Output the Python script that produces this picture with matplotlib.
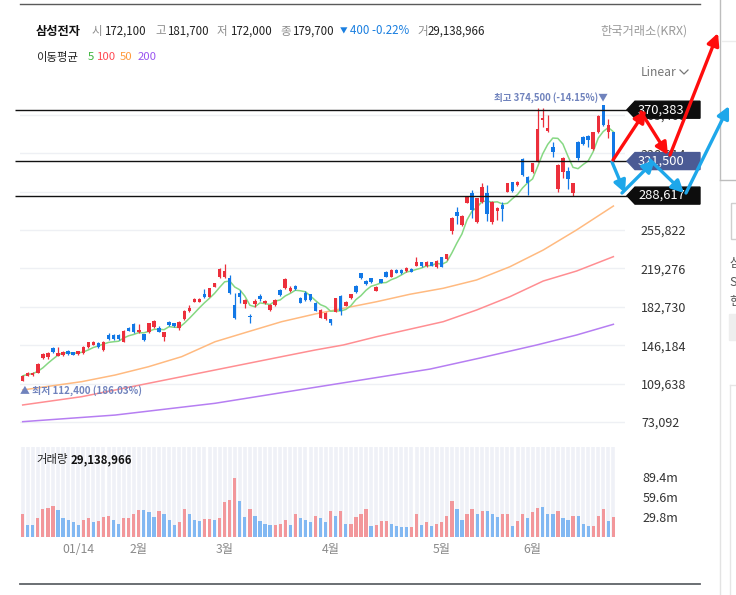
import numpy as np
import pandas as pd
import matplotlib
matplotlib.use("Agg")
from matplotlib import pyplot as plt
from matplotlib.patches import Polygon, Rectangle

plt.rcParams['font.family'] = ['Noto Sans CJK KR', 'DejaVu Sans']

W, H = 736, 595
RED = '#ec2f3b'
BLUE = '#1278e6'
VRED = '#f2979b'
VBLUE = '#82b8f2'

## daily candles (thousand won)
opens = [112.5, 117.2, 117.5, 120.0, 134.0, 134.9, 143.3, 136.2, 136.5, 141.0,
         139.5, 137.5, 138.5, 144.8, 146.4, 148.6, 141.6, 155.9, 155.9, 155.5,
         149.5, 162.8, 166.4, 158.5, 156.6, 158.5, 163.8, 162.8, 153.7, 168.6,
         167.1, 162.8, 171.1, 178.7, 187.6, 187.6, 194.9, 192.4, 201.9, 210.8,
         210.8, 210.5, 184.5, 195.6, 185.4, 174.0, 185.1, 193.0, 186.1, 179.7,
         184.5, 198.7, 200.3, 197.8, 202.6, 191.4, 196.2, 194.7, 186.7, 172.4,
         170.9, 170.9, 178.1, 193.3, 183.8, 190.8, 202.9, 214.7, 207.6, 209.9,
         198.1, 208.9, 215.9, 211.4, 217.8, 218.0, 216.8, 218.7, 221.9, 225.0,
         221.5, 225.0, 220.2, 229.9, 228.3, 254.8, 272.7, 260.6, 281.9, 291.4,
         263.8, 282.8, 291.4, 263.5, 274.0, 279.5, 292.3, 301.3, 298.7, 323.2,
         306.6, 310.8, 320.9, 360.6, 350.1, 335.1, 294.9, 310.8, 312.0, 290.8,
         339.9, 344.7, 345.6, 333.0, 348.9, 374.5, 349.0, 348.9]
highs = [117.5, 120.5, 120.8, 128.8, 138.5, 139.5, 144.8, 144.8, 141.0, 142.0,
         140.2, 141.0, 145.0, 149.6, 150.2, 149.2, 150.0, 157.5, 157.0, 157.0,
         160.5, 163.5, 167.2, 166.4, 157.2, 167.8, 170.0, 164.5, 159.2, 169.5,
         167.8, 168.8, 179.5, 184.5, 190.8, 190.8, 199.5, 201.0, 205.8, 219.5,
         223.5, 213.0, 195.6, 198.5, 189.8, 175.9, 190.0, 194.5, 189.2, 185.0,
         189.8, 199.5, 209.8, 202.5, 203.3, 192.0, 197.5, 195.3, 187.3, 180.3,
         177.8, 171.5, 191.5, 194.0, 188.0, 195.3, 203.6, 215.3, 208.3, 210.5,
         202.5, 209.5, 216.5, 218.5, 218.4, 218.8, 220.6, 219.3, 230.0, 225.6,
         226.0, 225.7, 227.0, 230.6, 233.3, 268.2, 278.0, 270.2, 288.3, 293.9,
         286.7, 300.3, 299.0, 283.5, 278.2, 283.0, 301.0, 302.0, 302.6, 324.0,
         307.3, 320.0, 371.7, 371.7, 365.0, 340.0, 318.5, 325.5, 316.0, 301.0,
         340.6, 345.4, 346.3, 349.6, 365.4, 374.5, 362.0, 349.6]
lows = [112.4, 116.8, 117.0, 119.5, 133.0, 133.1, 139.2, 135.5, 136.0, 137.0,
        136.5, 137.0, 137.8, 144.0, 146.0, 143.5, 141.0, 151.5, 151.5, 151.5,
        148.8, 159.5, 157.5, 158.0, 150.2, 157.8, 163.0, 158.3, 150.5, 164.8,
        163.8, 160.5, 170.5, 178.0, 187.0, 187.0, 191.0, 191.8, 201.2, 210.2,
        210.2, 195.0, 171.0, 186.8, 181.3, 167.6, 183.0, 188.0, 185.5, 179.0,
        184.0, 193.2, 199.5, 197.0, 198.8, 186.0, 188.5, 188.5, 178.3, 171.8,
        170.0, 165.0, 177.5, 174.9, 183.2, 190.2, 196.0, 209.3, 203.5, 205.5,
        197.5, 205.0, 210.8, 210.8, 214.5, 214.3, 216.2, 215.5, 221.3, 220.8,
        220.8, 221.3, 219.6, 220.4, 227.5, 251.8, 261.3, 260.0, 281.2, 267.3,
        263.0, 282.0, 264.4, 262.0, 265.0, 264.5, 291.6, 292.3, 298.0, 307.5,
        289.0, 310.0, 320.2, 354.2, 349.5, 325.0, 292.0, 305.0, 295.0, 288.0,
        322.5, 336.7, 335.0, 332.3, 348.2, 355.1, 343.0, 320.8]
closes = [117.0, 120.0, 120.2, 128.3, 137.8, 138.8, 140.0, 139.0, 139.5, 137.8,
          137.0, 140.5, 144.2, 149.0, 149.5, 144.2, 149.5, 152.1, 152.1, 152.0,
          159.7, 160.0, 158.5, 160.7, 150.9, 167.1, 169.2, 159.0, 158.5, 165.4,
          164.5, 168.0, 178.7, 181.9, 190.2, 190.2, 191.8, 200.3, 205.1, 218.7,
          216.8, 195.6, 171.8, 191.8, 189.2, 172.8, 188.3, 190.2, 188.6, 184.5,
          189.2, 193.9, 209.2, 200.9, 199.4, 186.7, 189.2, 189.2, 179.0, 179.7,
          177.1, 167.6, 190.8, 178.7, 187.0, 194.7, 196.6, 209.9, 204.2, 206.1,
          201.9, 205.7, 211.4, 217.8, 215.2, 215.0, 220.0, 216.2, 225.7, 221.5,
          225.3, 222.0, 226.4, 221.0, 232.7, 267.6, 269.5, 269.5, 287.6, 275.0,
          286.0, 297.1, 271.1, 282.2, 277.1, 275.8, 300.3, 293.0, 301.9, 308.2,
          300.3, 319.4, 351.7, 362.3, 353.3, 330.4, 317.8, 324.7, 304.4, 300.3,
          324.1, 337.4, 341.6, 348.9, 364.7, 355.8, 356.0, 321.5]

## volume (million shares) and bar colours as drawn
volumes = [33.8, 18.4, 18.4, 28.8, 42.2, 43.7, 45.7, 40.7, 28.8, 25.8,
           21.9, 17.4, 24.8, 28.8, 21.9, 23.3, 29.8, 31.8, 24.8, 19.9,
           28.8, 28.8, 34.8, 39.7, 39.7, 36.8, 29.8, 38.2, 34.8, 24.8,
           18.4, 21.9, 41.2, 33.8, 25.8, 23.3, 26.3, 27.3, 25.8, 28.8,
           51.7, 54.6, 88.4, 53.1, 29.3, 42.2, 31.8, 23.3, 19.9, 18.4,
           18.4, 19.4, 24.8, 18.4, 34.8, 28.8, 24.8, 21.9, 31.8, 28.8,
           21.9, 38.2, 31.8, 38.2, 19.9, 19.9, 29.8, 34.8, 41.2, 16.9,
           18.4, 23.3, 23.3, 19.9, 16.9, 15.4, 15.4, 15.4, 33.8, 18.4,
           21.9, 16.9, 19.9, 21.9, 31.8, 53.1, 41.2, 24.8, 34.8, 41.2,
           34.8, 38.2, 38.2, 33.8, 29.8, 34.8, 34.8, 16.9, 23.3, 33.8,
           28.8, 36.8, 43.7, 44.7, 33.8, 33.8, 38.2, 28.8, 25.8, 30.8,
           30.8, 19.9, 16.9, 16.9, 31.8, 42.2, 23.3, 29.8]
vol_colors = ("rbbrrrrbbb" "bbrrbrrrbb" "rrrrbbbrbb" "brrbbbrrbr" "rrrbbrbbbb"
              "rrrbrbbbrb" "brbrbrrrrb" "rrrbbbbrrb" "rbrrrrbbrr" "brbbbrrbrr"
              "brrbbbrbbr" "bbbrrrbr")

## moving averages (x = candle index)
ma50_x = [0, 11.7, 18.3, 24.9, 31.5, 38.1, 44.7, 51.3, 57.9, 63.5, 70.1, 76.7,
          83.3, 89.9, 96.5, 103.1, 109.7, 117]
ma50_v = [103.6, 111.5, 117.8, 125.7, 135.3, 149.5, 159.1, 168.6, 175.9, 181.3,
          187.6, 194.7, 200.4, 208.3, 220.9, 236.8, 255.9, 278.7]
ma100_x = [0, 11.7, 24.9, 38.1, 51.3, 57.9, 63.5, 70.1, 83.3, 89.9, 96.5, 103.1,
           109.7, 117]
ma100_v = [89.3, 97.2, 109.9, 122.6, 135.3, 141.6, 146.4, 154.3, 168.6, 179.7,
           192.4, 207.3, 216.8, 230.5]
ma200_x = [0, 18.3, 38.1, 57.9, 80.7, 90.6, 101.8, 109.7, 117]
ma200_v = [73.4, 79.7, 90.9, 106.1, 123.5, 134.0, 146.4, 155.9, 166.1]

price_ticks = [73092, 109638, 146184, 182730, 219276, 255822, 292368, 328914, 365460]
vol_ticks = [29.8, 59.6, 89.4]
vol_labels = ["29.8m", "59.6m", "89.4m"]
date_ticks = [11, 23, 40, 61, 83, 101]
date_labels = ["01/14", "2월", "3월", "4월", "5월", "6월"]

levels = [370383, 321500, 288617]
level_colors = ['#0d0d0d', '#4b5b95', '#0d0d0d']

fig = plt.figure(figsize=(W / 100, H / 100), dpi=100)


def add_px_axes(left, top, right, bottom):
    return fig.add_axes([left / W, 1 - bottom / H, (right - left) / W, (bottom - top) / H])


ax = add_px_axes(20, 95, 625, 440)
vax = add_px_axes(20, 447, 615, 537)
ov = fig.add_axes([0, 0, 1, 1], zorder=10)
ov.set_xlim(0, W)
ov.set_ylim(H, 0)
ov.axis('off')
ov.patch.set_alpha(0)

## price panel
o = np.array(opens) * 1000
h = np.array(highs) * 1000
l = np.array(lows) * 1000
c = np.array(closes) * 1000
x = np.arange(len(c))
cols = np.where(c >= o, RED, BLUE)

ax.plot(ma200_x, np.array(ma200_v) * 1000, color='#b67ef2', lw=1.1, zorder=2)
ax.plot(ma100_x, np.array(ma100_v) * 1000, color='#ff8e92', lw=1.1, zorder=2)
ax.plot(ma50_x, np.array(ma50_v) * 1000, color='#ffba80', lw=1.1, zorder=2)
ma5 = pd.Series(c).rolling(5, min_periods=1).mean()
ax.plot(x, ma5, color='#86d883', lw=1.1, zorder=2.5)

ax.vlines(x, l, h, colors=cols, lw=0.9, zorder=3)
ax.bar(x, np.maximum(np.abs(c - o), 900), bottom=np.minimum(o, c), width=0.68,
       color=cols, zorder=3)

ax.set_xlim(-0.53, 119.3)
ax.set_ylim(55956, 384396)
ax.set_yticks(price_ticks)
ax.set_yticklabels([f"{t:,}" for t in price_ticks])
ax.yaxis.tick_right()
ax.tick_params(axis='y', length=0, pad=11.5, labelsize=9, labelcolor='#333333')
ax.set_xticks([])
ax.grid(axis='y', color='#eef0f4', lw=1)
ax.set_axisbelow(True)
for s in ax.spines.values():
    s.set_visible(False)

ax.hlines(levels, -1.5, 120.3, colors='#111111', lw=1.0, zorder=5, clip_on=False)

imax = int(np.argmax(h))
imin = int(np.argmin(l))
ax.annotate(f"최고 {h[imax]:,.0f} (-14.15%)▼", xy=(imax, h[imax]), xytext=(3, 2),
            textcoords='offset points', ha='right', va='bottom', fontsize=6.9,
            color='#7083bd', fontweight='bold')
ax.annotate(f"▲ 최저 {l[imin]:,.0f} (186.03%)", xy=(imin, l[imin]), xytext=(-2, -4),
            textcoords='offset points', ha='left', va='top', fontsize=7.1,
            color='#7083bd', fontweight='bold')

## volume panel
vax.set_facecolor('#ffffff')
vax.vlines(x, 0, 134.1, colors='#eff1f7', lw=2.6, zorder=0)
vcols = [VRED if k == 'r' else VBLUE for k in vol_colors]
vax.bar(x, volumes, width=0.64, color=vcols, zorder=2)
vax.set_xlim(-0.53, 117.3)
vax.set_ylim(0, 134.1)
vax.yaxis.tick_right()
vax.set_yticks(vol_ticks)
vax.set_yticklabels(vol_labels)
vax.tick_params(axis='y', length=0, pad=20, labelsize=9, labelcolor='#333333')
vax.set_xticks(date_ticks)
vax.set_xticklabels(date_labels)
vax.tick_params(axis='x', length=0, pad=4, labelsize=8.8, labelcolor='#8a8a8a')
for s in vax.spines.values():
    s.set_visible(False)

## level tags on the price scale
for lvl, col in zip(levels, level_colors):
    yc = H - ax.transData.transform((0, lvl))[1]
    tag = Polygon([(627, yc), (635, yc - 8.5), (700, yc - 8.5), (700, yc + 8.5),
                   (635, yc + 8.5)], closed=True, facecolor=col, edgecolor=col, zorder=3)
    ov.add_patch(tag)
    ov.text(638, yc, f"{lvl:,}", color='white', fontsize=9.3, va='center', ha='left', zorder=4)

## hand drawn arrows
red_segs = [((613, 160), (646, 110)), ((641, 112), (668, 155)), ((670, 155), (718, 33))]
blue_segs = [((612, 162), (625, 193)), ((622, 193), (655, 160)),
             ((650, 160), (684, 193)), ((686, 193), (729, 106))]
for segs, col in ((blue_segs, '#1ea7ea'), (red_segs, '#ff0d0d')):
    for a, b in segs:
        ov.annotate('', xy=b, xytext=a,
                    arrowprops=dict(arrowstyle='-|>', color=col, lw=2.4,
                                    mutation_scale=18, shrinkA=0, shrinkB=0), zorder=6)

## header
GRAY = '#8c8c8c'
DARK = '#222222'
hy = 31
ov.text(36, hy, "삼성전자", fontsize=8.8, fontweight='bold', color='#111111', va='center')
for xp, txt, col in [(92, "시", GRAY), (104, "172,100", DARK), (155, "고", GRAY),
                     (167, "181,700", DARK), (217, "저", GRAY), (230, "172,000", DARK),
                     (280, "종", GRAY), (292, "179,700", DARK), (350, "400 -0.22%", '#1a7fe0'),
                     (417, "거", GRAY), (428, "29,138,966", DARK)]:
    ov.text(xp, hy, txt, fontsize=8.3, color=col, va='center')
ov.text(340, hy, "▼", fontsize=5.5, color='#1a7fe0', va='center')

my = 57
ov.text(36, my, "이동평균", fontsize=8.2, color=DARK, va='center')
for xp, txt, col in [(88, "5", '#3cb43c'), (97, "100", '#ff4b55'),
                     (120, "50", '#ff9a3c'), (138, "200", '#9a55f0')]:
    ov.text(xp, my, txt, fontsize=8.2, color=col, va='center')

ov.text(600, 31, "한국거래소(KRX)", fontsize=8.8, color='#9a9a9a', va='center')
ov.text(641, 72, "Linear", fontsize=8.8, color='#777777', va='center')
ov.plot([680, 684, 688], [70, 74, 70], color='#777777', lw=0.9)

ov.text(36, 460, "거래량", fontsize=8.2, color=DARK, va='center')
ov.text(71, 460, "29,138,966", fontsize=8.2, color='#111111', fontweight='bold', va='center')

## frame and neighbouring panel
ov.plot([20, 700], [3.5, 3.5], color='#5a5a5a', lw=1.0)
ov.plot([20, 700], [584, 584], color='#5f6368', lw=1.3)
ov.plot([720, 720], [0, 180], color='#bdbdbd', lw=1.0)
ov.plot([720, 720], [180, 595], color='#e3e3e3', lw=1.0)
ov.plot([720, 736], [180, 180], color='#bdbdbd', lw=1.0)
ov.plot([722, 736], [41, 41], color='#ececec', lw=1.0)
ov.add_patch(Rectangle((731, 203), 20, 36, fill=False, edgecolor='#cfcfcf', lw=1))
for yy, t in [(263, "삼"), (283, "S"), (302, "현")]:
    ov.text(729, yy, t, fontsize=9, color='#555555', va='center', clip_on=True)
ov.add_patch(Rectangle((729, 314), 10, 26, color='#eeeeee'))
ov.plot([730, 730], [385, 595], color='#e6e6e6', lw=1.0)
ov.plot([730, 736], [385, 385], color='#e6e6e6', lw=1.0)

fig.savefig("out.png", dpi=100)
